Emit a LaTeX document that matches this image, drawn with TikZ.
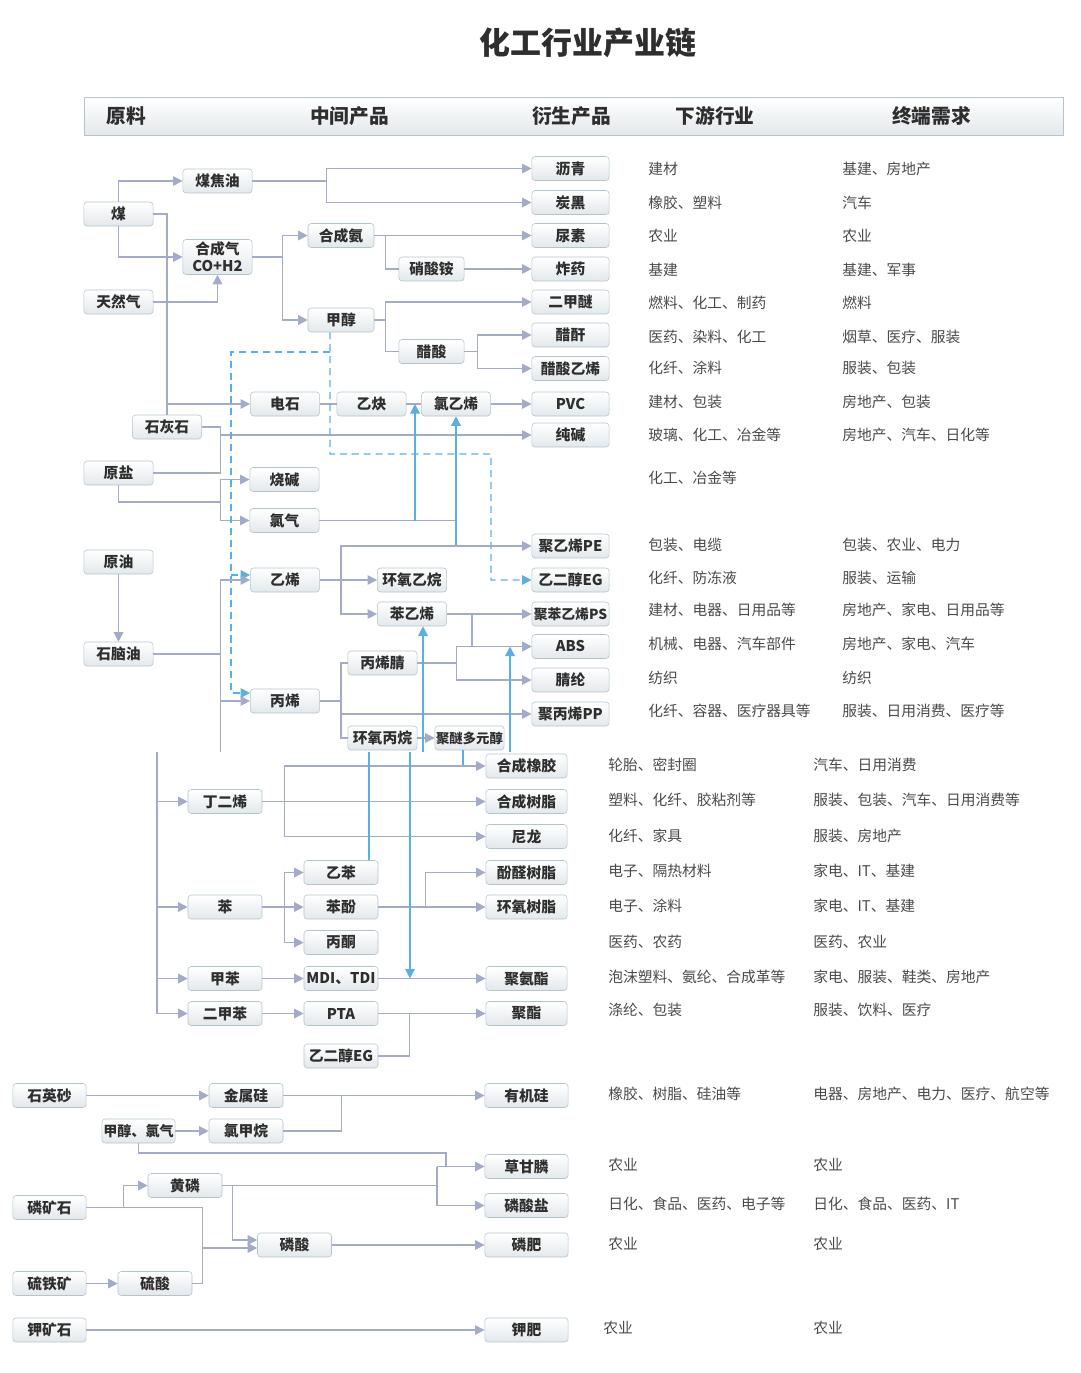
\documentclass[tikz,border=0pt]{standalone}
\usepackage{fontspec}
\setmainfont{Noto Sans CJK SC}
\usetikzlibrary{arrows.meta,positioning}
\usepackage{xcolor}
\definecolor{linegray}{HTML}{A3ABC9}
\definecolor{lineblue}{HTML}{5AAFE6}
\definecolor{boxdraw}{HTML}{B3C5CC}
\definecolor{boxfill}{HTML}{E3E8EB}
\definecolor{txt}{HTML}{2E2E2E}
\definecolor{side}{HTML}{4A4A4A}

\begin{document}
\begin{tikzpicture}[
  x=0.025cm, y=-0.025cm,
  box/.style={rectangle, draw=boxdraw, rounded corners=0.8mm, top color=white, bottom color=boxfill,
              minimum width=17.3mm, minimum height=6mm, inner sep=0pt, align=center,
              font=\fontsize{10.5}{12}\selectfont\bfseries, text=txt},
  mid/.style={box, minimum width=18.5mm},
  prod/.style={box, minimum width=19.3mm},
  prodlow/.style={box, minimum width=20.3mm},
  prodbot/.style={box, minimum width=20.8mm},
  usetext/.style={anchor=west, inner sep=0pt, font=\fontsize{10.5}{12}\selectfont, text=side},
  headtext/.style={font=\fontsize{14}{16}\selectfont\bfseries, text=txt},
  link/.style={draw=linegray, line width=1pt},
  arr/.style={link, -{Triangle[length=2.4mm, width=2.4mm]}},
  bline/.style={draw=lineblue, line width=1pt},
  barr/.style={bline, -{Triangle[length=2.4mm, width=2.4mm]}},
  bdash/.style={bline, dash pattern=on 5pt off 3.5pt},
  bdarr/.style={bdash, -{Triangle[length=2.4mm, width=2.4mm]}}
]
\useasboundingbox (0,0) rectangle (1080,1373);

% Title and header
\node[font=\fontsize{22}{26}\selectfont\bfseries, text=txt] (title) at (588,43) {化工行业产业链};
\node[draw=boxdraw, top color=white, bottom color=boxfill, minimum width=24.475cm,
      minimum height=0.95cm] (head) at (573.5,116) {};
\node[headtext] (h1) at (126.5,116) {原料};
\node[headtext] (h2) at (349.5,116) {中间产品};
\node[headtext] (h3) at (571.5,116) {衍生产品};
\node[headtext] (h4) at (715,116) {下游行业};
\node[headtext] (h5) at (931.5,116) {终端需求};

% Raw materials
\node[box] (coal) at (118.5,214) {煤};
\node[box] (natgas) at (118.5,302) {天然气};
\node[box] (lime) at (167,427) {石灰石};
\node[box] (salt) at (118.5,473) {原盐};
\node[box] (crude) at (118.5,562) {原油};
\node[box] (naph) at (118.5,654) {石脑油};

% Intermediates
\node[box] (tar) at (217.5,181) {煤焦油};
\node[box, minimum height=8.75mm] (syngas) at (217.5,257) {合成气\\CO+H2};
\node[box, minimum width=16.5mm] (nh3) at (341,235.5) {合成氨};
\node[box, minimum width=16.5mm] (meoh) at (341,320) {甲醇};
\node[box, minimum width=16.3mm] (an) at (431.5,269) {硝酸铵};
\node[box, minimum width=16.3mm] (hac) at (431.5,351.5) {醋酸};
\node[box] (carbide) at (285,404) {电石};
\node[box] (acet) at (371.5,404) {乙炔};
\node[box] (vcm) at (456,404) {氯乙烯};
\node[box] (naoh) at (284.5,479.5) {烧碱};
\node[box] (cl) at (284.5,520.5) {氯气};
\node[box] (ethy) at (285,580) {乙烯};
\node[box] (propy) at (285,701) {丙烯};
\node[box] (eo) at (412,580) {环氧乙烷};
\node[box] (sty) at (412,614) {苯乙烯};
\node[box] (acn) at (382.5,663) {丙烯腈};
\node[box] (po) at (382.5,738) {环氧丙烷};
\node[box, font=\fontsize{9.5}{11}\selectfont\bfseries] (ppg) at (469.5,738) {聚醚多元醇};

% Derived products (upper)
\node[prod] (asph) at (570.5,168.5) {沥青};
\node[prod] (cb) at (570.5,202.5) {炭黑};
\node[prod] (urea) at (570.5,235.5) {尿素};
\node[prod] (expl) at (570.5,269) {炸药};
\node[prod] (dme) at (570.5,302) {二甲醚};
\node[prod] (ac2o) at (570.5,335) {醋酐};
\node[prod] (vac) at (570.5,368.5) {醋酸乙烯};
\node[prod] (pvc) at (570.5,404) {PVC};
\node[prod] (soda) at (570.5,435) {纯碱};
\node[prod] (pe) at (570.5,546) {聚乙烯PE};
\node[prod] (eg) at (570.5,580) {乙二醇EG};
\node[prod, font=\fontsize{9.8}{11}\selectfont\bfseries] (ps) at (570.5,614) {聚苯乙烯PS};
\node[prod] (abs) at (570.5,646.5) {ABS};
\node[prod] (acry) at (570.5,680) {腈纶};
\node[prod] (pp) at (570.5,714) {聚丙烯PP};

% Aromatics and C4
\node[mid] (bd) at (225,801.5) {丁二烯};
\node[mid] (bz) at (225,907) {苯};
\node[mid] (tol) at (225,978.5) {甲苯};
\node[mid] (xyl) at (225,1013.5) {二甲苯};
\node[mid] (eb) at (341,872.5) {乙苯};
\node[mid] (phenol) at (341,907) {苯酚};
\node[mid] (acetone) at (341,942.5) {丙酮};
\node[mid] (mdi) at (341,978.5) {MDI、TDI};
\node[mid] (pta) at (341,1013.5) {PTA};
\node[mid] (egb) at (341,1056) {乙二醇EG};
\node[prodlow] (rubber) at (526.5,766) {合成橡胶};
\node[prodlow] (resin) at (526.5,801.5) {合成树脂};
\node[prodlow] (nylon) at (526.5,836.5) {尼龙};
\node[prodlow] (pf) at (526.5,872.5) {酚醛树脂};
\node[prodlow] (epoxy) at (526.5,907) {环氧树脂};
\node[prodlow] (pu) at (526.5,978.5) {聚氨酯};
\node[prodlow] (pet) at (526.5,1013.5) {聚酯};

% Silicon, phosphorus, potash
\node[box, minimum width=18.3mm] (quartz) at (49.5,1095.5) {石英砂};
\node[box, minimum width=18.3mm, font=\fontsize{10}{12}\selectfont\bfseries] (mc) at (138.5,1131) {甲醇、氯气};
\node[box, minimum width=18.3mm] (prock) at (49.5,1207.5) {磷矿石};
\node[box, minimum width=18.3mm] (pyrite) at (49.5,1283.5) {硫铁矿};
\node[box, minimum width=18.3mm] (krock) at (49.5,1330) {钾矿石};
\node[mid] (si) at (246,1095.5) {金属硅};
\node[mid] (mecl) at (246,1131) {氯甲烷};
\node[mid] (yp) at (185,1185.5) {黄磷};
\node[mid] (h3po4) at (294.5,1245) {磷酸};
\node[mid] (h2so4) at (155,1283.5) {硫酸};
\node[prodbot] (silicone) at (526.5,1095.5) {有机硅};
\node[prodbot] (gly) at (526.5,1166.5) {草甘膦};
\node[prodbot] (phs) at (526.5,1205.5) {磷酸盐};
\node[prodbot] (pfert) at (526.5,1245) {磷肥};
\node[prodbot] (kfert) at (526.5,1330) {钾肥};

% Downstream and end demand (upper)
\node[usetext] (d1) at (648,169) {建材};
\node[usetext] (e1) at (842,169) {基建、房地产};
\node[usetext] (d2) at (648,203) {橡胶、塑料};
\node[usetext] (e2) at (842,203) {汽车};
\node[usetext] (d3) at (648,236) {农业};
\node[usetext] (e3) at (842,236) {农业};
\node[usetext] (d4) at (648,270) {基建};
\node[usetext] (e4) at (842,270) {基建、军事};
\node[usetext] (d5) at (648,303) {燃料、化工、制药};
\node[usetext] (e5) at (842,303) {燃料};
\node[usetext] (d6) at (648,337) {医药、染料、化工};
\node[usetext] (e6) at (842,337) {烟草、医疗、服装};
\node[usetext] (d7) at (648,368) {化纤、涂料};
\node[usetext] (e7) at (842,368) {服装、包装};
\node[usetext] (d8) at (648,402) {建材、包装};
\node[usetext] (e8) at (842,402) {房地产、包装};
\node[usetext] (d9) at (648,435) {玻璃、化工、冶金等};
\node[usetext] (e9) at (842,435) {房地产、汽车、日化等};
\node[usetext] (d10) at (648,478) {化工、冶金等};
\node[usetext] (d11) at (648,545) {包装、电缆};
\node[usetext] (e11) at (842,545) {包装、农业、电力};
\node[usetext] (d12) at (648,578) {化纤、防冻液};
\node[usetext] (e12) at (842,578) {服装、运输};
\node[usetext] (d13) at (648,610) {建材、电器、日用品等};
\node[usetext] (e13) at (842,610) {房地产、家电、日用品等};
\node[usetext] (d14) at (648,644) {机械、电器、汽车部件};
\node[usetext] (e14) at (842,644) {房地产、家电、汽车};
\node[usetext] (d15) at (648,678) {纺织};
\node[usetext] (e15) at (842,678) {纺织};
\node[usetext] (d16) at (648,711) {化纤、容器、医疗器具等};
\node[usetext] (e16) at (842,711) {服装、日用消费、医疗等};

% Downstream and end demand (lower)
\node[usetext] (d17) at (608,765) {轮胎、密封圈};
\node[usetext] (e17) at (813,765) {汽车、日用消费};
\node[usetext] (d18) at (608,800) {塑料、化纤、胶粘剂等};
\node[usetext] (e18) at (813,800) {服装、包装、汽车、日用消费等};
\node[usetext] (d19) at (608,836) {化纤、家具};
\node[usetext] (e19) at (813,836) {服装、房地产};
\node[usetext] (d20) at (608,871) {电子、隔热材料};
\node[usetext] (e20) at (813,871) {家电、IT、基建};
\node[usetext] (d21) at (608,906) {电子、涂料};
\node[usetext] (e21) at (813,906) {家电、IT、基建};
\node[usetext] (d22) at (608,942) {医药、农药};
\node[usetext] (e22) at (813,942) {医药、农业};
\node[usetext] (d23) at (608,977) {泡沫塑料、氨纶、合成革等};
\node[usetext] (e23) at (813,977) {家电、服装、鞋类、房地产};
\node[usetext] (d24) at (608,1010) {涤纶、包装};
\node[usetext] (e24) at (813,1010) {服装、饮料、医疗};
\node[usetext] (d25) at (608,1094) {橡胶、树脂、硅油等};
\node[usetext] (e25) at (813,1094) {电器、房地产、电力、医疗、航空等};
\node[usetext] (d26) at (608,1165) {农业};
\node[usetext] (e26) at (813,1165) {农业};
\node[usetext] (d27) at (608,1204) {日化、食品、医药、电子等};
\node[usetext] (e27) at (813,1204) {日化、食品、医药、IT};
\node[usetext] (d28) at (608,1244) {农业};
\node[usetext] (e28) at (813,1244) {农业};
\node[usetext] (d29) at (603,1328) {农业};
\node[usetext] (e29) at (813,1328) {农业};

% Junction points
\coordinate (j1) at (220.5,435);
\coordinate (j2) at (220.5,502);
\coordinate (j3) at (456,520.5);
\coordinate (j4) at (415,520.5);
\coordinate (n1) at (220.5,654);
\coordinate (cut1) at (220.5,752);
\coordinate (cut2) at (157,752);
\coordinate (dA) at (330,454);
\coordinate (dB) at (491,454);
\coordinate (dC) at (330,352);
\coordinate (dD) at (231,352);
\coordinate (e1a) at ([yshift=1.25mm]ethy.west);
\coordinate (p1a) at ([yshift=2mm]propy.west);
\coordinate (c1) at (369,752);
\coordinate (c2) at (423,752);
\coordinate (c3) at (510,752);
\coordinate (c4) at (410,752);
\coordinate (g1) at (446,1153);
\coordinate (g2) at (437,1205.5);

% Coal and gas
\draw[arr] (coal.north) |- (tar);
\draw[arr] (coal.south) |- (syngas);
\draw[arr] (coal.east) -- ++(13.5,0) |- (carbide);
\draw[link] (lime.north) -- (lime.north |- carbide);
\draw[arr] (natgas.east) -| (syngas.south);
\draw[arr] (tar.east) -- ++(74,0) |- (asph);
\draw[arr] (tar.east) -- ++(74,0) |- (cb);
\draw[arr] (syngas.east) -- ++(30,0) |- (nh3);
\draw[arr] (syngas.east) -- ++(30,0) |- (meoh);
\draw[arr] (nh3) -- (urea);
\draw[link] (nh3.east) -- ++(11,0) |- (an);
\draw[arr] (an) -- (expl);
\draw[arr] (meoh.east) -- ++(11,0) |- (dme);
\draw[link] (meoh.east) -- ++(11,0) |- (hac);
\draw[arr] (hac.east) -- ++(13,0) |- (ac2o);
\draw[arr] (hac.east) -- ++(13,0) |- (vac);

% Carbide and salt
\draw[link] (carbide) -- (acet);
\draw[link] (acet) -- (vcm);
\draw[arr] (vcm) -- (pvc);
\draw[link] (lime.east) -| (j1);
\draw[link] (salt.east) -| (j1);
\draw[arr] (j1) -- (soda);
\draw[link] (salt.south) |- (j2);
\draw[arr] (j2) |- (naoh);
\draw[arr] (j2) |- (cl);
\draw[link] (cl) -- (j3);
\draw[barr] (j4) -- (j4 |- acet);
\draw[barr] (vcm.south |- pe) -- (vcm.south);

% Methanol routes (dashed)
\draw[bdarr] ([xshift=-2.75mm]meoh.south) -- (dA) -- (dB) |- (eg);
\draw[bdarr] (dC) -- (dD) |- (p1a);
\draw[bdarr] (dD |- e1a) -- (e1a);

% Naphtha cracking
\draw[arr] (crude) -- (naph);
\draw[link] (naph) -- (n1);
\draw[arr] (n1) |- (ethy);
\draw[arr] (n1) |- (propy);
\draw[link] (n1) -- (cut1);
\draw[arr] (ethy.east) -- ++(21,0) |- (pe);
\draw[arr] (ethy) -- (eo);
\draw[arr] (ethy.east) -- ++(21,0) |- (sty);
\draw[arr] (sty) -- (ps);
\draw[arr] (sty.east) -- ++(25,0) |- (abs);
\draw[arr] (acn.east) -- ++(39,0) |- (abs);
\draw[arr] (acn.east) -- ++(39,0) |- (acry);
\draw[link] (propy.east) -- ++(21,0) |- (acn);
\draw[link] (propy.east) -- ++(21,0) |- (po);
\draw[arr] (propy.east) -- ++(21,0) |- (pp);
\draw[arr] (po) -- (ppg);
\draw[barr] (c2) -- (c2 |- sty.south);
\draw[barr] (c3) -- (c3 |- abs);
\draw[bline] ([xshift=-1.6mm]ppg.south) -- ++(0,16);

% Aromatics and C4
\draw[arr] (cut2) |- (bd);
\draw[arr] (cut2) |- (bz);
\draw[arr] (cut2) |- (tol);
\draw[arr] (cut2) |- (xyl);
\draw[arr] (bd) -- (resin);
\draw[arr] (bd.east) -- ++(22,0) |- (rubber);
\draw[arr] (bd.east) -- ++(22,0) |- (nylon);
\draw[arr] (bz.east) -- ++(22,0) |- (eb);
\draw[arr] (bz) -- (phenol);
\draw[arr] (bz.east) -- ++(22,0) |- (acetone);
\draw[arr] (phenol) -- (epoxy);
\draw[arr] (phenol.east) -- ++(47,0) |- (pf);
\draw[arr] (tol) -- (mdi);
\draw[arr] (mdi) -- (pu);
\draw[arr] (xyl) -- (pta);
\draw[arr] (pta) -- (pet);
\draw[link] (egb.east) -- ++(31,0) -- ++(0,-42.5);
\draw[bline] (c1) -- (c1 |- eb.north);
\draw[barr] (c4) -- (c4 |- mdi);

% Silicon, phosphorus, potash
\draw[arr] (quartz) -- (si);
\draw[arr] (si) -- (silicone);
\draw[arr] (mc) -- (mecl);
\draw[link] (mecl.east) -- ++(58,0) -- ++(0,-35.5);
\draw[link] (mc.south) |- (g1) -- (g1 |- gly);
\draw[link] (g2 |- gly) -- (g2);
\draw[arr] (g2 |- gly) -- (gly);
\draw[arr] (g2) -- (phs);
\draw[link] (yp.east) -- (g2 |- yp.east);
\draw[arr] (prock.east) -- ++(37,0) |- (yp);
\draw[arr] (yp.east) -- ++(10,0) |- ([yshift=1.25mm]h3po4.west);
\draw[arr] (prock.east) -- ++(116,0) |- ([yshift=-0.75mm]h3po4.west);
\draw[arr] (pyrite) -- (h2so4);
\draw[link] (h2so4.east) -- ++(10,0) -- ++(0,-35);
\draw[arr] (h3po4) -- (pfert);
\draw[arr] (krock) -- (kfert);
\end{tikzpicture}
\end{document}
